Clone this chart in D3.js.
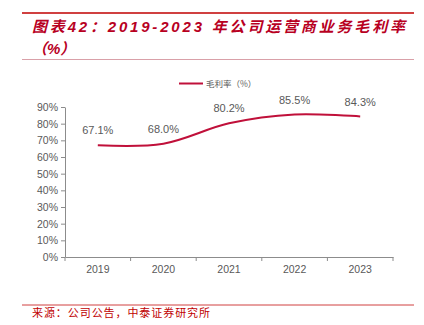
<!DOCTYPE html>
<html lang="zh">
<head>
<meta charset="utf-8">
<script src="https://cdnjs.cloudflare.com/ajax/libs/d3/7.8.5/d3.min.js"></script>
<style>
  body { margin: 0; background: #fff; }
  svg text { font-family: "Liberation Sans", Arial, "Noto Sans CJK SC", sans-serif; }
</style>
</head>
<body>
<svg id="canvas" width="424" height="325"></svg>
<script>
// data
const years = ["2019", "2020", "2021", "2022", "2023"];
const margin = [67.1, 68.0, 80.2, 85.5, 84.3];
const yTicks = [0, 10, 20, 30, 40, 50, 60, 70, 80, 90];

const red = "#c0103a";
const grey = "#595959";
const svg = d3.select("#canvas");

// title block
svg.append("line").attr("x1", 22).attr("x2", 414).attr("y1", 13).attr("y2", 13)
  .attr("stroke", "#c00000").attr("stroke-width", 1.5);
svg.append("text").attr("x", 32).attr("y", 32)
  .attr("textLength", 373).attr("lengthAdjust", "spacing")
  .style("font-size", "15px").style("font-weight", "bold").style("font-style", "italic")
  .attr("fill", "#b8001f")
  .text("图表42：2019-2023 年公司运营商业务毛利率");
svg.append("text").attr("x", 32).attr("y", 54)
  .style("font-size", "15px").style("font-weight", "bold").style("font-style", "italic")
  .attr("fill", "#b8001f")
  .text("（%）");
svg.append("line").attr("x1", 22).attr("x2", 414).attr("y1", 59.5).attr("y2", 59.5)
  .attr("stroke", "#d9a0a8").attr("stroke-width", 1);

// scales
const x = d3.scaleBand().domain(years).range([65, 393]);
const y = d3.scaleLinear().domain([0, 90]).range([257, 107]);

// y axis
const yAxis = svg.append("g").attr("transform", "translate(65,0)")
  .call(d3.axisLeft(y).tickValues(yTicks).tickFormat(d => d + "%").tickSize(4).tickSizeOuter(0));
yAxis.select(".domain").attr("stroke", "#8c8c8c");
yAxis.selectAll(".tick line").attr("stroke", "#8c8c8c");
yAxis.selectAll("text").attr("fill", grey).style("font-size", "10.5px").attr("x", -7);

// x axis
const xAxis = svg.append("g").attr("transform", "translate(0,257)")
  .call(d3.axisBottom(x).tickSize(0).tickSizeOuter(0));
xAxis.select(".domain").attr("stroke", "#8c8c8c");
xAxis.selectAll("text").attr("fill", grey).style("font-size", "10.5px").attr("dy", "0").attr("y", 16);
// category boundary ticks
const bounds = years.map(d => x(d)).concat([x.range()[1]]);
xAxis.selectAll(".bound").data(bounds).join("line").attr("class", "bound")
  .attr("x1", d => d).attr("x2", d => d).attr("y1", 0).attr("y2", 4)
  .attr("stroke", "#8c8c8c");

// line
const pts = years.map((d, i) => [x(d) + x.bandwidth() / 2, y(margin[i])]);
svg.append("path").datum(pts)
  .attr("d", d3.line().curve(d3.curveCatmullRom.alpha(0.5)))
  .attr("fill", "none").attr("stroke", red).attr("stroke-width", 2);

// value labels
svg.selectAll(".lbl").data(years).join("text").attr("class", "lbl")
  .attr("x", d => x(d) + x.bandwidth() / 2)
  .attr("y", (d, i) => y(margin[i]) - 11)
  .attr("text-anchor", "middle").attr("fill", grey).style("font-size", "11px")
  .text((d, i) => margin[i].toFixed(1) + "%");

// legend
svg.append("line").attr("x1", 179).attr("x2", 203).attr("y1", 83.5).attr("y2", 83.5)
  .attr("stroke", red).attr("stroke-width", 2);
svg.append("text").attr("x", 206).attr("y", 87)
  .attr("fill", grey).style("font-size", "8.5px").style("font-family", "Noto Sans CJK SC")
  .text("毛利率（%）");

// source
svg.append("line").attr("x1", 22).attr("x2", 414).attr("y1", 305).attr("y2", 305)
  .attr("stroke", "#d04040").attr("stroke-width", 1);
svg.append("text").attr("x", 32).attr("y", 317)
  .attr("textLength", 178).attr("lengthAdjust", "spacing")
  .attr("fill", "#c00000").style("font-size", "11px").style("font-family", "Noto Sans CJK SC")
  .text("来源：公司公告，中泰证券研究所");
</script>
</body>
</html>
